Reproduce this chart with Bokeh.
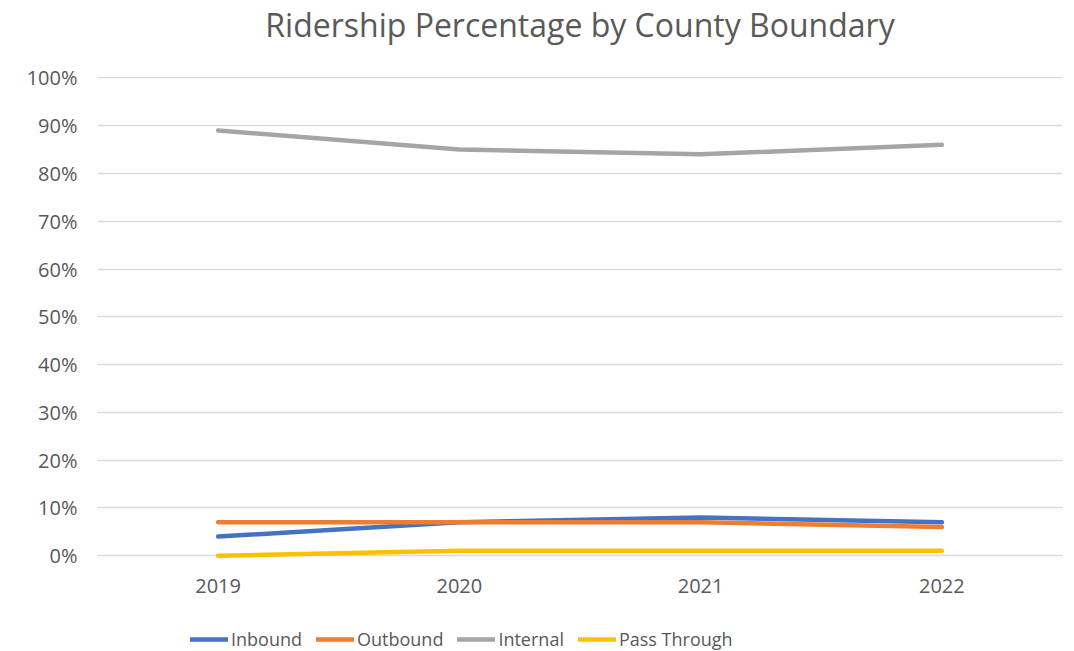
from bokeh.plotting import figure
from bokeh.layouts import column
from bokeh.models import Legend, LegendItem, Range1d, PrintfTickFormatter, FixedTicker
from bokeh.embed import file_html
from bokeh.resources import INLINE

years = ["2019", "2020", "2021", "2022"]
inbound = [4, 7, 8, 7]
outbound = [7, 7, 7, 6]
internal = [89, 85, 84, 86]
pass_through = [0, 1, 1, 1]
series_names = ["Inbound", "Outbound", "Internal", "Pass Through"]
colors = ["#4472C4", "#ED7D31", "#A5A5A5", "#FFC000"]
y_ticks = list(range(0, 101, 10))
chart_title = "Ridership Percentage by County Boundary"

FONT = "Open Sans"
TXT = "#595959"


def blank_strip(h):
    f = figure(width=1074, height=h, x_range=Range1d(0, 1), y_range=Range1d(0, 1),
               output_backend="svg", toolbar_location=None,
               x_axis_type=None, y_axis_type=None,
               min_border_left=97, min_border_right=12, min_border_top=0, min_border_bottom=0)
    f.outline_line_color = None
    f.xgrid.visible = False
    f.ygrid.visible = False
    return f


# title strip
tf = blank_strip(56)
tf.title.text = chart_title
tf.title.align = "center"
tf.title.offset = -31
tf.title.standoff = 0
tf.title.text_font = FONT
tf.title.text_font_size = "32px"
tf.title.text_font_style = "normal"
tf.title.text_color = TXT

# main chart
p = figure(width=1074, height=554, x_range=years, y_range=Range1d(-0.6, 100.3),
           output_backend="svg", toolbar_location=None,
           min_border_left=97, min_border_right=12, min_border_top=20, min_border_bottom=52)
p.outline_line_color = None

for vals, c in zip([inbound, outbound, internal, pass_through], colors):
    p.line(years, vals, line_color=c, line_width=4.5, line_cap="round", line_join="round")

p.yaxis.ticker = FixedTicker(ticks=y_ticks)
p.yaxis.formatter = PrintfTickFormatter(format="%d%%")
for ax in (p.xaxis, p.yaxis):
    ax.axis_line_color = None
    ax.major_tick_line_color = None
    ax.minor_tick_line_color = None
    ax.major_tick_out = 0
    ax.major_tick_in = 0
    ax.major_label_text_font = FONT
    ax.major_label_text_font_size = "20px"
    ax.major_label_text_color = TXT
p.yaxis.major_label_standoff = 20
p.xaxis.major_label_standoff = 20
p.xgrid.grid_line_color = None
p.ygrid.grid_line_color = "#D9D9D9"
p.ygrid.grid_line_width = 1.3

# legend strip (its lines lie outside the visible range; only the legend glyphs show)
lg = blank_strip(41)
leg_renderers = [lg.line(x=[-2, -1], y=[-2, -1], line_color=c, line_width=4.5, line_cap="round")
                 for c in colors]
legend = Legend(items=[LegendItem(label=n, renderers=[r]) for n, r in zip(series_names, leg_renderers)],
                location=(93, 0), orientation="horizontal",
                glyph_width=38, glyph_height=20, label_height=20, label_standoff=3, spacing=14,
                padding=0, margin=0, border_line_color=None, background_fill_alpha=0,
                label_text_font=FONT, label_text_font_size="18px", label_text_color=TXT)
lg.add_layout(legend, "center")

layout = column(tf, p, lg, spacing=0)
open("out.html", "w").write(file_html(layout, INLINE))
